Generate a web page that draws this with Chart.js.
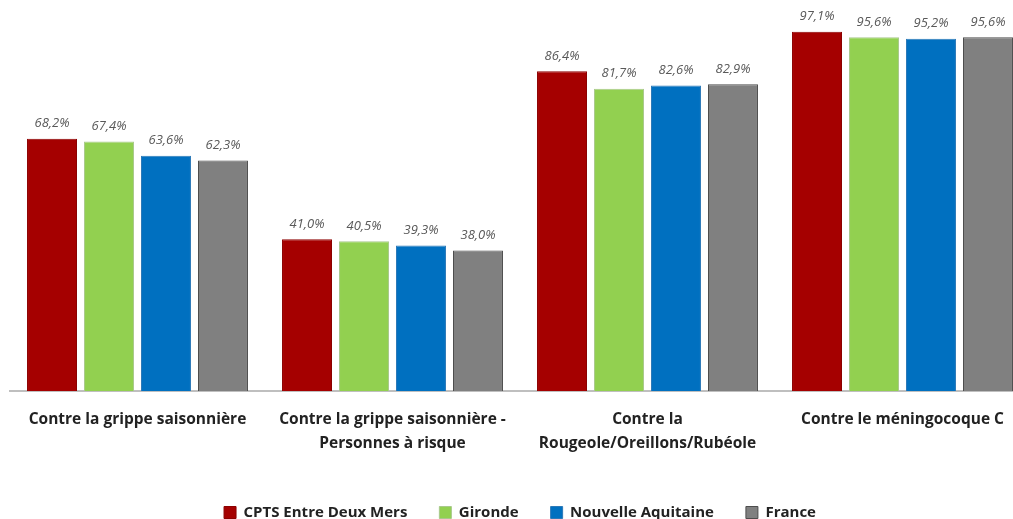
<!DOCTYPE html>
<html>
<head>
<meta charset="utf-8">
<script src="https://cdn.jsdelivr.net/npm/chart.js@4"></script>
<style>
  html, body { margin: 0; padding: 0; background: #fff; overflow: hidden; }
  #wrap { width: 1040px; height: 530px; position: relative; }
</style>
</head>
<body>
<div id="wrap"><canvas id="vaccChart"></canvas></div>
<script>
var categories = [
  'Contre la grippe saisonnière',
  ['Contre la grippe saisonnière -', 'Personnes à risque'],
  ['Contre la', 'Rougeole/Oreillons/Rubéole'],
  'Contre le méningocoque C'
];
var seriesNames = ['CPTS Entre Deux Mers', 'Gironde', 'Nouvelle Aquitaine', 'France'];
var cpts = [68.2, 41.0, 86.4, 97.1];
var gironde = [67.4, 40.5, 81.7, 95.6];
var nouvelleAquitaine = [63.6, 39.3, 82.6, 95.2];
var france = [62.3, 38.0, 82.9, 95.6];

var fills = ['#a50000', '#92d050', '#0070c0', '#808080'];
var borders = ['#8c0000', '#a9c98c', '#2c79b8', '#4d4d4d'];

// value labels above each bar, "68,2%" style
var barLabels = {
  id: 'barLabels',
  afterDatasetsDraw: function(chart) {
    var ctx = chart.ctx;
    ctx.save();
    ctx.font = 'italic 13px "Open Sans"';
    ctx.fillStyle = '#595959';
    ctx.textAlign = 'center';
    ctx.textBaseline = 'middle';
    chart.data.datasets.forEach(function(ds, i) {
      chart.getDatasetMeta(i).data.forEach(function(bar, j) {
        var txt = ds.data[j].toFixed(1).replace('.', ',') + '%';
        ctx.fillText(txt, bar.x, bar.y - 15);
      });
    });
    ctx.restore();
  }
};

var allData = [cpts, gironde, nouvelleAquitaine, france];
var datasets = seriesNames.map(function(name, i) {
  return {
    label: name,
    data: allData[i],
    backgroundColor: fills[i],
    borderColor: borders[i],
    borderWidth: 1,
    categoryPercentage: 0.894,
    barPercentage: 0.877
  };
});

new Chart(document.getElementById('vaccChart'), {
  type: 'bar',
  data: { labels: categories, datasets: datasets },
  options: {
    responsive: true,
    maintainAspectRatio: false,
    animation: false,
    layout: { padding: { top: 21, left: 10, right: 10, bottom: 0 } },
    plugins: {
      tooltip: { enabled: false },
      legend: {
        position: 'bottom',
        labels: {
          boxWidth: 12,
          boxHeight: 12,
          padding: 32,
          color: '#222',
          font: { family: 'Open Sans', size: 15, weight: 'bold' }
        }
      }
    },
    scales: {
      x: {
        grid: { display: false, drawTicks: false },
        border: { display: true, color: '#bfbfbf', width: 2 },
        ticks: {
          color: '#222',
          padding: 17,
          maxRotation: 0,
          autoSkip: false,
          font: { family: 'Open Sans', size: 15.5, weight: 'bold', lineHeight: 1.55 }
        },
        afterFit: function(scale) { scale.height = 82; }
      },
      y: {
        display: false,
        min: 0,
        max: 100
      }
    }
  },
  plugins: [barLabels]
});
</script>
</body>
</html>
